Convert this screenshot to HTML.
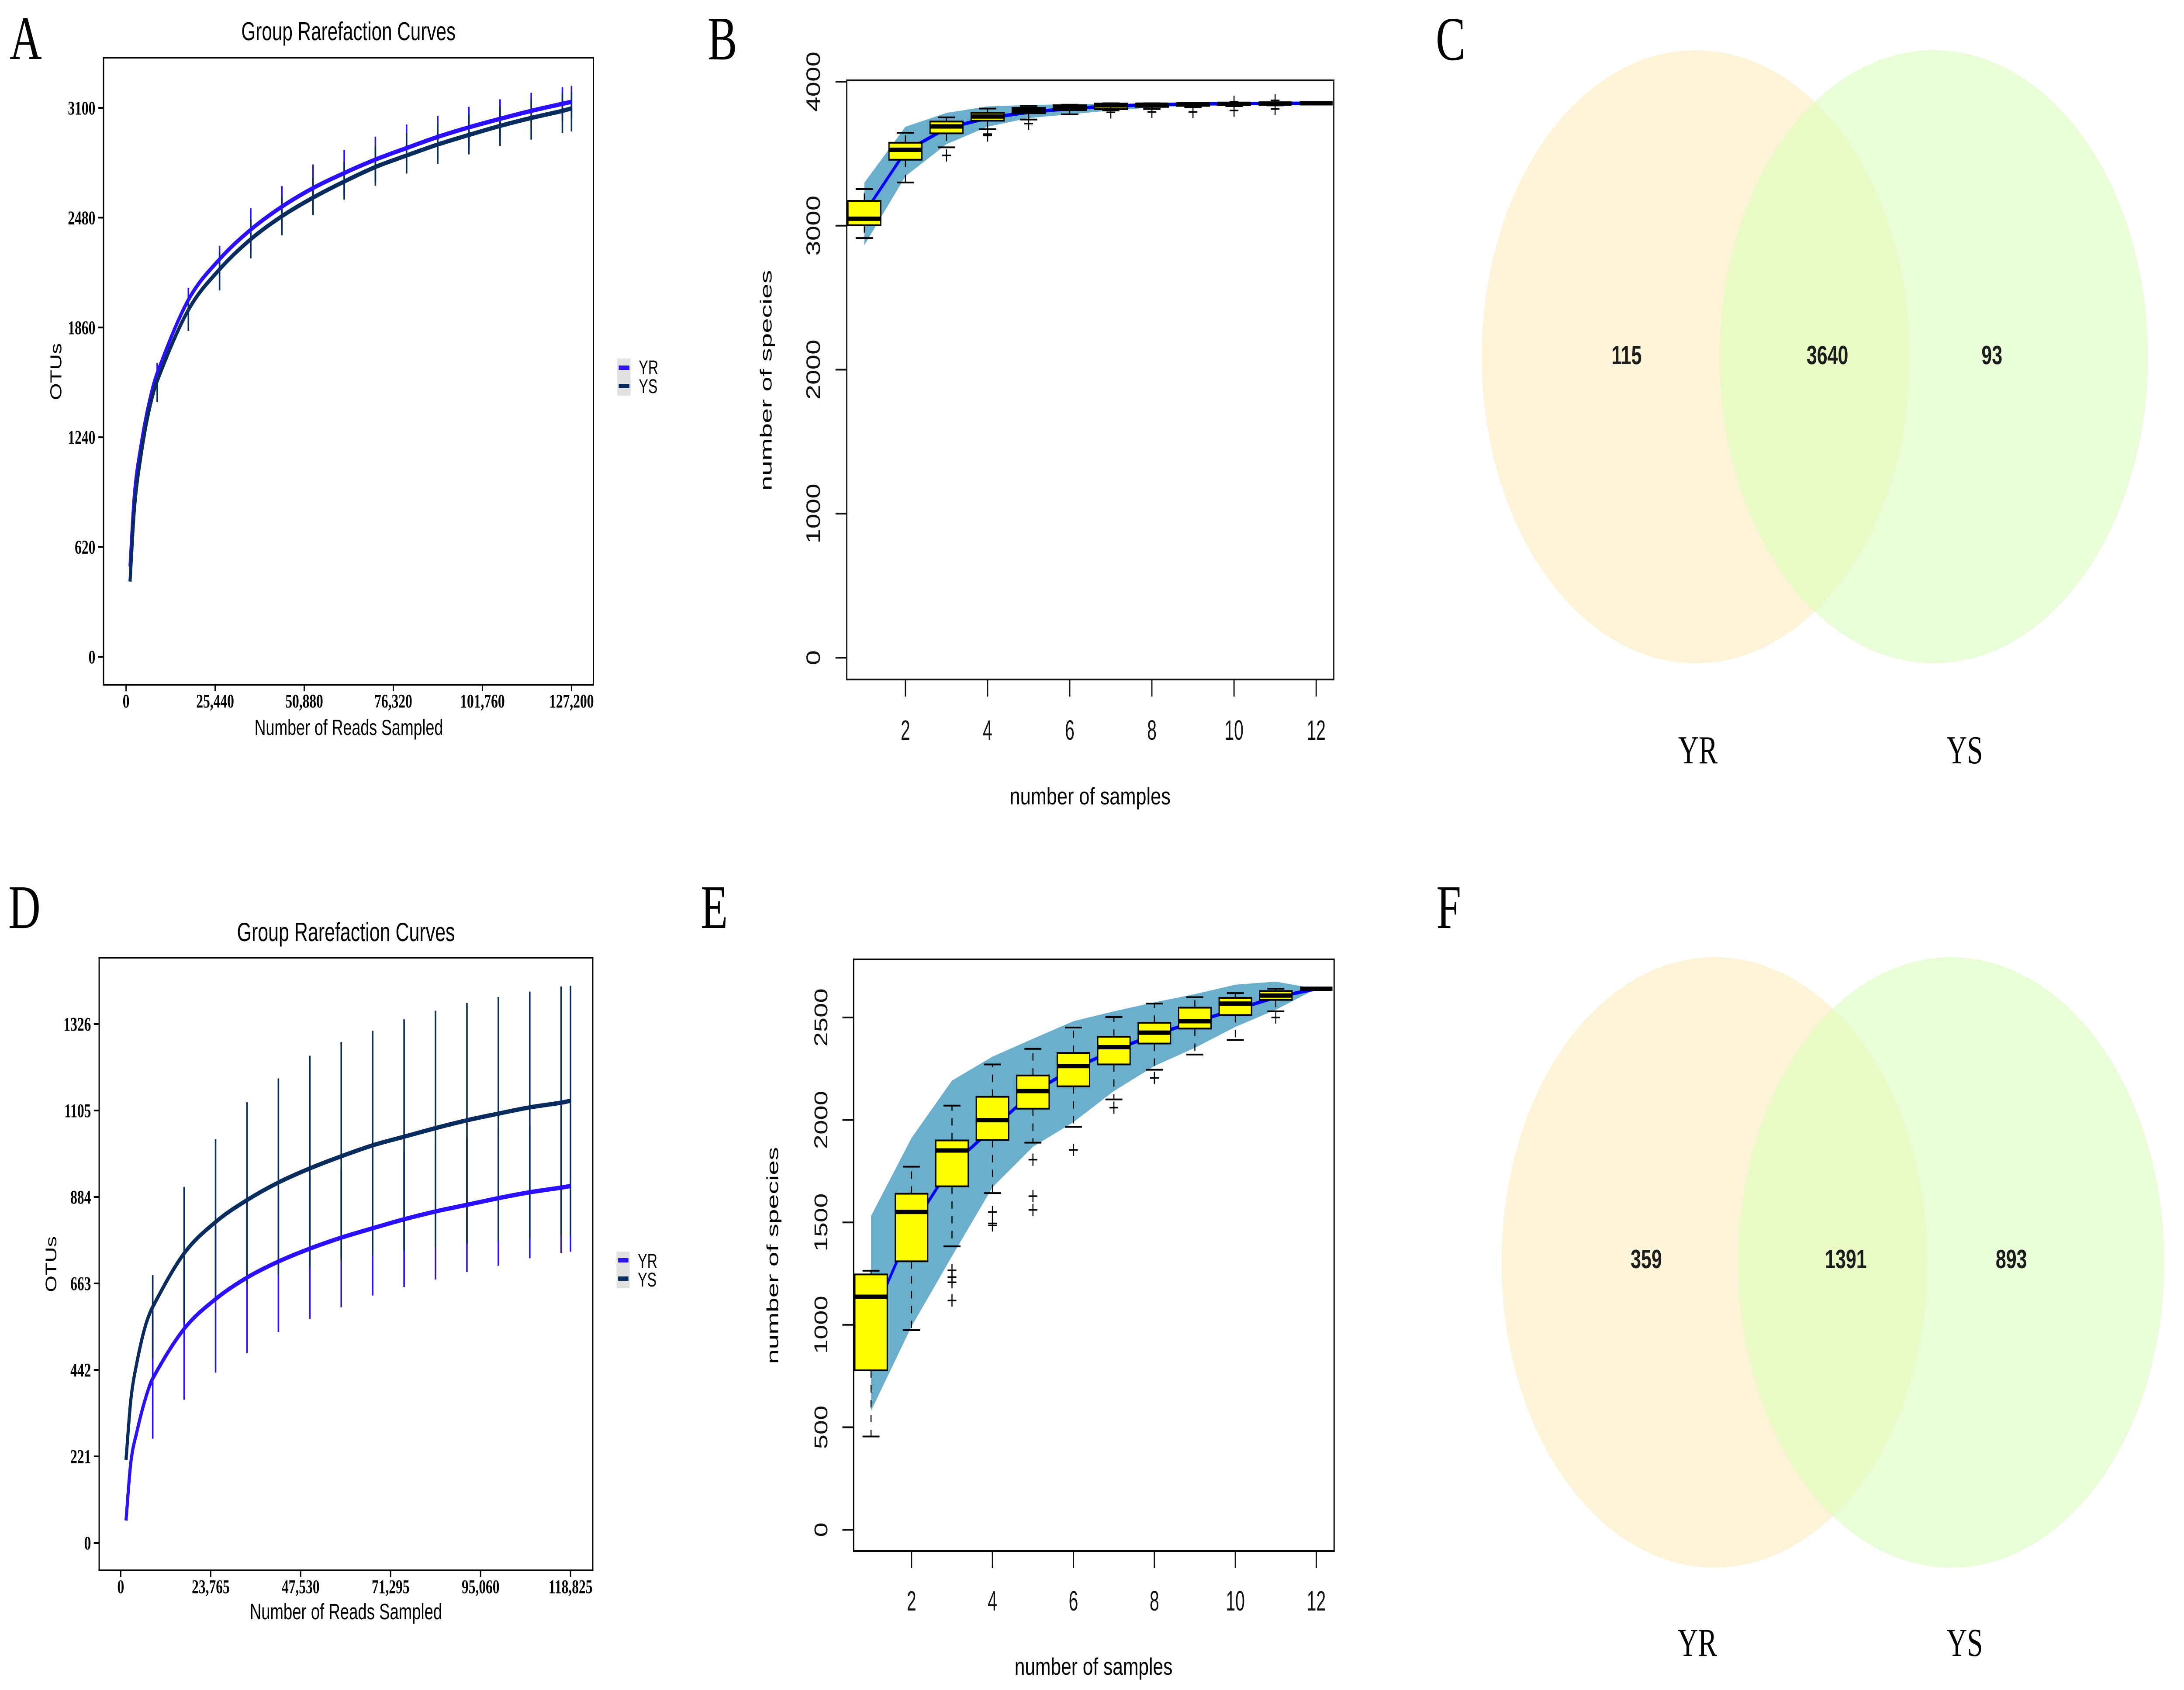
<!DOCTYPE html>
<html lang="en">
<head>
<meta charset="utf-8">
<meta name="viewport" content="width=6982">
<title>Rarefaction curves, species accumulation boxplots and Venn diagrams</title>
<style>
html,body{margin:0;padding:0;background:#fff;height:3870px;overflow:hidden}
svg{display:block;width:100vw;height:3870px}
text{fill:#000}
.sans{font-family:"Liberation Sans",sans-serif}
.serif{font-family:"Liberation Serif",serif}
.tickA{font-family:"Liberation Serif",serif;font-weight:bold;font-size:44px}
.tickB{font-family:"Liberation Sans",sans-serif;font-size:62px;fill:#111}
.venn{font-family:"Liberation Sans",sans-serif;font-weight:bold;font-size:60px;text-anchor:middle;fill:#1c1c1c}
.setname{font-family:"Liberation Serif",serif;font-size:91px;text-anchor:middle}
.letter{font-family:"Liberation Serif",serif;font-size:142px}
</style>
</head>
<body>
<svg id="figure" xmlns="http://www.w3.org/2000/svg" viewBox="0 0 6982 3870" preserveAspectRatio="none">
<rect width="6982" height="3870" fill="#fff"/>

<g>
  <text class="letter" x="31" y="135">A</text>
  <text class="sans" font-size="59" text-anchor="middle" x="1114" y="92">Group Rarefaction Curves</text>
  <g id="plotA"></g>
  <rect x="331" y="132" width="1566" height="1436" fill="none" stroke="#000" stroke-width="4"/>
  <text class="sans" font-size="50" text-anchor="middle" x="1115" y="1683">Number of Reads Sampled</text>
  <text class="sans" font-size="50" text-anchor="middle" transform="translate(196,851) rotate(-90)">OTUs</text>
  <g>
    <rect x="1973" y="821" width="43" height="85" fill="#e2e2e2"/>
    <rect x="1978" y="837" width="34" height="10" fill="#2a10ff"/>
    <rect x="1978" y="879" width="34" height="10" fill="#082c5e"/>
    <text class="sans" font-size="45" x="2042" y="857">YR</text>
    <text class="sans" font-size="45" x="2042" y="900">YS</text>
  </g>
</g>

<g>
  <text class="letter" x="2262" y="136">B</text>
  <g id="plotB"></g>
  <rect x="2707" y="184" width="1557" height="1372" fill="none" stroke="#111" stroke-width="4"/>
  <text class="sans" font-size="55" text-anchor="middle" transform="translate(3485,1842) scale(1.1,1)">number of samples</text>
  <text class="sans" font-size="52" text-anchor="middle" transform="translate(2467,871) rotate(-90) scale(1.19,1)">number of species</text>
</g>

<g>
  <text class="letter" x="4590" y="137">C</text>
  <defs>
    <clipPath id="clipC"><ellipse cx="6182" cy="817" rx="685" ry="702"/></clipPath>
    <clipPath id="clipF"><ellipse cx="6238" cy="2891" rx="681" ry="699"/></clipPath>
  </defs>
  <ellipse cx="5421" cy="817" rx="684" ry="702" fill="#fdf3d8"/>
  <ellipse cx="6182" cy="817" rx="685" ry="702" fill="#e9fdd8"/>
  <ellipse cx="5421" cy="817" rx="684" ry="702" fill="#e9fac5" clip-path="url(#clipC)"/>
  <text class="venn" x="5200" y="834">115</text>
  <text class="venn" x="5842" y="834">3640</text>
  <text class="venn" x="6368" y="834">93</text>
  <text class="setname" x="5428" y="1748">YR</text>
  <text class="setname" x="6281" y="1748">YS</text>
</g>

<g>
  <text class="letter" x="27" y="2125">D</text>
  <text class="sans" font-size="60" text-anchor="middle" x="1106" y="2155">Group Rarefaction Curves</text>
  <g id="plotD"></g>
  <rect x="317" y="2193" width="1578" height="1403" fill="none" stroke="#000" stroke-width="4"/>
  <text class="sans" font-size="51" text-anchor="middle" x="1106" y="3708">Number of Reads Sampled</text>
  <text class="sans" font-size="49" text-anchor="middle" transform="translate(180,2895) rotate(-90)">OTUs</text>
  <g>
    <rect x="1971" y="2866" width="42" height="84" fill="#e2e2e2"/>
    <rect x="1976" y="2881" width="33" height="10" fill="#2a10ff"/>
    <rect x="1976" y="2923" width="33" height="10" fill="#082c5e"/>
    <text class="sans" font-size="45" x="2039" y="2903">YR</text>
    <text class="sans" font-size="45" x="2039" y="2946">YS</text>
  </g>
</g>

<g>
  <text class="letter" x="2240" y="2125">E</text>
  <g id="plotE"></g>
  <rect x="2729" y="2197" width="1536" height="1355" fill="none" stroke="#000" stroke-width="4"/>
  <text class="sans" font-size="55" text-anchor="middle" transform="translate(3496,3835) scale(1.08,1)">number of samples</text>
  <text class="sans" font-size="52" text-anchor="middle" transform="translate(2488,2875) rotate(-90) scale(1.17,1)">number of species</text>
</g>

<g>
  <text class="letter" x="4592" y="2125">F</text>
  <ellipse cx="5481" cy="2891" rx="681" ry="699" fill="#fdf3d8"/>
  <ellipse cx="6238" cy="2891" rx="681" ry="699" fill="#e9fdd8"/>
  <ellipse cx="5481" cy="2891" rx="681" ry="699" fill="#e9fac5" clip-path="url(#clipF)"/>
  <text class="venn" x="5263" y="2904">359</text>
  <text class="venn" x="5901" y="2904">1391</text>
  <text class="venn" x="6430" y="2904">893</text>
  <text class="setname" x="5426" y="3792">YR</text>
  <text class="setname" x="6281" y="3792">YS</text>
</g>
</svg>

<script>
/* Panel A data */
const aXTicks = [0, 25440, 50880, 76320, 101760, 127200];
const aYTicks = [0, 620, 1240, 1860, 2480, 3100];
const aReads = [1130, 2400, 4100, 6400, 8900, 17800, 26700, 35600, 44500, 53400, 62300, 71200, 80100, 89000, 97900, 106800, 115700, 124600, 127200];
const aYR = [510, 922, 1175, 1420, 1603, 2016, 2245, 2412, 2542, 2647, 2732, 2808, 2873, 2936, 2990, 3038, 3083, 3123, 3134];
const aYS = [425, 838, 1115, 1375, 1558, 1959, 2188, 2358, 2488, 2593, 2684, 2766, 2831, 2893, 2947, 2998, 3043, 3083, 3097];
const aYRErr = [57, 68, 76, 122, 116, 133, 130, 130, 133, 119, 116, 110, 102, 93, 91];
const aYSErrUp = [60, 80, 95, 110, 110, 110, 110, 118, 127, 120, 115, 110, 105, 98, 93];
const aYSErrDown = [120, 119, 119, 108, 108, 99, 102, 105, 102, 110, 110, 113, 122, 125, 130];

/* Panel D data */
const dXTicks = [0, 23765, 47530, 71295, 95060, 118825];
const dYTicks = [0, 221, 442, 663, 884, 1105, 1326];
const dReads = [1390, 2670, 4290, 6380, 8450, 16750, 25050, 33350, 41650, 49950, 58250, 66550, 74850, 83150, 91450, 99750, 108050, 116350, 118825];
const dYR = [57, 206, 285, 364, 420, 547, 623, 678, 719, 752, 780, 804, 827, 847, 864, 881, 896, 908, 912];
const dYS = [212, 366, 462, 550, 603, 740, 820, 876, 921, 957, 988, 1016, 1038, 1060, 1080, 1097, 1113, 1125, 1130];
const dYRErr = [154, 181, 188, 193, 180, 180, 178, 172, 173, 174, 172, 173, 169, 168, 168];
const dYSErrUp = [81, 170, 212, 250, 266, 288, 292, 293, 300, 300, 300, 298, 296, 297, 294];
const dYSErrDown = [131, 175, 200, 214, 236, 252, 266, 281, 290, 304, 314, 325, 334, 339, 345];

/* Panel B data */
const bXTicks = [2, 4, 6, 8, 10, 12];
const bYTicks = [0, 1000, 2000, 3000, 4000];
const bSamples = [1, 2, 3, 4, 5, 6, 7, 8, 9, 10, 11, 12];
const bBandUpper = [3298, 3687, 3783, 3828, 3838, 3843, 3846, 3848, 3850, 3850, 3850, 3850];
const bBandLower = [2864, 3343, 3566, 3687, 3747, 3773, 3800, 3820, 3835, 3843, 3848, 3850];
const bMean = [3087, 3515, 3677, 3747, 3788, 3813, 3830, 3840, 3845, 3848, 3849, 3850];
const bQ1 = [3003, 3458, 3641, 3729, 3781, 3803, 3809, 3825, 3832, 3838, 3842, 3850];
const bMedian = [3048, 3527, 3689, 3758, 3800, 3818, 3835, 3840, 3845, 3846, 3848, 3850];
const bQ3 = [3172, 3576, 3723, 3783, 3818, 3836, 3848, 3848, 3850, 3850, 3850, 3850];
const bWhiskerLow = [2914, 3300, 3544, 3670, 3737, 3773, 3800, 3810, 3822, 3830, 3835, 3850];
const bWhiskerHigh = [3254, 3645, 3752, 3813, 3831, 3840, 3850, 3850, 3850, 3850, 3850, 3850];
const bOutliers = [[], [], [3488], [3636, 3626], [3709], [], [3787], [3790], [3790], [3800, 3860], [3810, 3870], []];

/* Panel E data */
const eXTicks = [2, 4, 6, 8, 10, 12];
const eYTicks = [0, 500, 1000, 1500, 2000, 2500];
const eSamples = [1, 2, 3, 4, 5, 6, 7, 8, 9, 10, 11, 12];
const eBandUpper = [1531, 1912, 2192, 2309, 2396, 2482, 2530, 2574, 2614, 2660, 2675, 2640];
const eBandLower = [580, 992, 1335, 1671, 1869, 1989, 2141, 2263, 2352, 2454, 2538, 2640];
const eMean = [1017, 1475, 1780, 1958, 2136, 2250, 2340, 2416, 2479, 2538, 2599, 2640];
const eQ1 = [778, 1310, 1676, 1902, 2055, 2164, 2271, 2373, 2446, 2512, 2586, 2640];
const eMedian = [1137, 1551, 1851, 1999, 2141, 2263, 2355, 2426, 2482, 2568, 2607, 2640];
const eQ3 = [1246, 1640, 1900, 2113, 2217, 2327, 2406, 2474, 2548, 2596, 2629, 2640];
const eWhiskerLow = [455, 974, 1383, 1643, 1889, 1966, 2100, 2245, 2319, 2390, 2530, 2640];
const eWhiskerHigh = [1264, 1772, 2070, 2271, 2347, 2451, 2502, 2568, 2599, 2619, 2640, 2640];
const eOutliers = [[], [], [1266, 1233, 1208, 1119], [1551, 1495, 1485], [1806, 1628, 1561], [1854], [2060], [2205], [], [], [2500], []];

const SVGNS = 'http://www.w3.org/2000/svg';
function linear(d0, d1, r0, r1) {
  return function (v) { return r0 + (v - d0) * (r1 - r0) / (d1 - d0); };
}
function mk(parent, tag, attrs) {
  const el = document.createElementNS(SVGNS, tag);
  for (const k in attrs) el.setAttribute(k, attrs[k]);
  parent.appendChild(el);
  return el;
}
function smoothPath(pts) {
  let d = 'M' + pts[0][0] + ' ' + pts[0][1];
  for (let i = 0; i < pts.length - 1; i++) {
    const p0 = pts[Math.max(i - 1, 0)], p1 = pts[i], p2 = pts[i + 1], p3 = pts[Math.min(i + 2, pts.length - 1)];
    const c1x = p1[0] + (p2[0] - p1[0]) / 3, c2x = p2[0] - (p2[0] - p1[0]) / 3;
    const s1 = (p2[1] - p0[1]) / ((p2[0] - p0[0]) || 1), s2 = (p3[1] - p1[1]) / ((p3[0] - p1[0]) || 1);
    const c1y = p1[1] + s1 * (p2[0] - p1[0]) / 3, c2y = p2[1] - s2 * (p2[0] - p1[0]) / 3;
    d += 'C' + c1x + ' ' + c1y + ' ' + c2x + ' ' + c2y + ' ' + p2[0] + ' ' + p2[1];
  }
  return d;
}

function drawRarefaction(cfg) {
  const g = document.getElementById(cfg.id);
  const x = cfg.x, y = cfg.y;
  cfg.yTicks.forEach(function (v) {
    const t = mk(g, 'line', { x1: cfg.left, x2: cfg.left - 17, y1: y(v), y2: y(v), stroke: '#000', 'stroke-width': 4 });
    
    
    const l = mk(g, 'text', { class: 'tickA', x: cfg.left - 26, y: y(v) + 15, 'text-anchor': 'end' });
    l.textContent = String(v);
    
    
  });
  cfg.xTicks.forEach(function (v) {
    const t = mk(g, 'line', { x1: x(v), x2: x(v), y1: cfg.bottom, y2: cfg.bottom + 15, stroke: '#000', 'stroke-width': 4 });
    
    
    const l = mk(g, 'text', { class: 'tickA', x: x(v), y: cfg.bottom + 52, 'text-anchor': 'middle' });
    l.textContent = v.toLocaleString('en-US');
    
    
  });
  const first = cfg.reads.length - cfg.yrErr.length;
  cfg.yrErr.forEach(function (e, i) {
    const r = cfg.reads[first + i], m = cfg.yr[first + i];
    const b = mk(g, 'line', { x1: x(r), x2: x(r), y1: y(m + e), y2: y(m - e), stroke: '#2a10ff', 'stroke-width': 5 });
    
    
  });
  cfg.ysErrUp.forEach(function (e, i) {
    const r = cfg.reads[first + i], m = cfg.ys[first + i];
    const b = mk(g, 'line', { x1: x(r), x2: x(r), y1: y(m + e), y2: y(m - cfg.ysErrDown[i]), stroke: '#082c5e', 'stroke-width': 5 });
    
    
  });
  const lineYR = mk(g, 'path', { d: smoothPath(cfg.reads.map(function (r, i) { return [x(r), y(cfg.yr[i])]; })), fill: 'none', stroke: '#2a10ff', 'stroke-width': 10 });
  
  
  const lineYS = mk(g, 'path', { d: smoothPath(cfg.reads.map(function (r, i) { return [x(r), y(cfg.ys[i])]; })), fill: 'none', stroke: '#082c5e', 'stroke-width': 10 });
  
  
}

function drawBoxes(cfg) {
  const g = document.getElementById(cfg.id);
  const x = cfg.x, y = cfg.y;
  const s = cfg.samples;
  const upper = s.map(function (n, i) { return x(n) + ',' + y(cfg.bandUpper[i]); });
  const lower = s.map(function (n, i) { return x(n) + ',' + y(cfg.bandLower[i]); }).reverse();
  const band = mk(g, 'polygon', { points: upper.concat(lower).join(' '), fill: '#6cafcc' });
  
  
  const mean = mk(g, 'polyline', { points: s.map(function (n, i) { return x(n) + ',' + y(cfg.mean[i]); }).join(' '), fill: 'none', stroke: '#0000ff', 'stroke-width': 8 });
  
  
  const hw = (x(1) - x(0)) * 0.4, cw = (x(1) - x(0)) * 0.21, os = 14;
  s.forEach(function (n, i) {
    const cx = x(n);
    const box = mk(g, 'g', {});
    
    
    mk(box, 'line', { x1: cx, x2: cx, y1: y(cfg.q3[i]), y2: y(cfg.whiskerHigh[i]), stroke: '#000', 'stroke-width': 3.5, 'stroke-dasharray': '17 17' });
    mk(box, 'line', { x1: cx, x2: cx, y1: y(cfg.q1[i]), y2: y(cfg.whiskerLow[i]), stroke: '#000', 'stroke-width': 3.5, 'stroke-dasharray': '17 17' });
    mk(box, 'line', { x1: cx - cw, x2: cx + cw, y1: y(cfg.whiskerHigh[i]), y2: y(cfg.whiskerHigh[i]), stroke: '#000', 'stroke-width': 4 });
    mk(box, 'line', { x1: cx - cw, x2: cx + cw, y1: y(cfg.whiskerLow[i]), y2: y(cfg.whiskerLow[i]), stroke: '#000', 'stroke-width': 4 });
    mk(box, 'rect', { x: cx - hw, y: y(cfg.q3[i]), width: hw * 2, height: Math.max(y(cfg.q1[i]) - y(cfg.q3[i]), 0), fill: '#ffff00', stroke: '#000', 'stroke-width': 4 });
    mk(box, 'line', { x1: cx - hw, x2: cx + hw, y1: y(cfg.median[i]), y2: y(cfg.median[i]), stroke: '#000', 'stroke-width': 10 });
    cfg.outliers[i].forEach(function (o) {
      mk(box, 'path', { d: 'M' + (cx - os) + ' ' + y(o) + 'H' + (cx + os) + 'M' + cx + ' ' + (y(o) - os) + 'V' + (y(o) + os), stroke: '#000', 'stroke-width': 3.5, fill: 'none' });
    });
  });
  cfg.yTicks.forEach(function (v) {
    const t = mk(g, 'line', { x1: cfg.left, x2: cfg.left - 36, y1: y(v), y2: y(v), stroke: '#111', 'stroke-width': 4 });
    
    
    const l = mk(g, 'text', { class: 'tickB', 'text-anchor': 'middle', transform: 'translate(' + cfg.yLabelX + ',' + y(v) + ') rotate(-90)' });
    l.style.fontSize = cfg.yFont + 'px';
    l.textContent = String(v);
    
    
  });
  cfg.xTicks.forEach(function (v) {
    const t = mk(g, 'line', { x1: x(v), x2: x(v), y1: cfg.bottom, y2: cfg.bottom + 39, stroke: '#111', 'stroke-width': 4 });
    
    
    const l = mk(g, 'text', { class: 'tickB', 'text-anchor': 'middle', transform: 'translate(' + x(v) + ',' + cfg.xLabelY + ') scale(0.85,1)' });
    l.style.fontSize = '64px';
    l.textContent = String(v);
    
    
  });
}

drawRarefaction({ id: 'plotA', x: linear(0, 127200, 403, 1827), y: linear(0, 3100, 1504, 247), left: 331, bottom: 1568,
  xTicks: aXTicks, yTicks: aYTicks, reads: aReads, yr: aYR, ys: aYS, yrErr: aYRErr, ysErrUp: aYSErrUp, ysErrDown: aYSErrDown });
drawRarefaction({ id: 'plotD', x: linear(0, 118825, 386, 1824), y: linear(0, 1326, 3533, 2345), left: 317, bottom: 3596,
  xTicks: dXTicks, yTicks: dYTicks, reads: dReads, yr: dYR, ys: dYS, yrErr: dYRErr, ysErrUp: dYSErrUp, ysErrDown: dYSErrDown });
drawBoxes({ id: 'plotB', x: linear(2, 12, 2894.5, 4207.7), y: linear(0, 4000, 1506, 187), left: 2707, bottom: 1556, yLabelX: 2621, yFont: 62, xLabelY: 1694,
  xTicks: bXTicks, yTicks: bYTicks, samples: bSamples, bandUpper: bBandUpper, bandLower: bBandLower, mean: bMean,
  q1: bQ1, median: bMedian, q3: bQ3, whiskerLow: bWhiskerLow, whiskerHigh: bWhiskerHigh, outliers: bOutliers });
drawBoxes({ id: 'plotE', x: linear(2, 12, 2914, 4208), y: linear(0, 2500, 3503, 2330), left: 2729, bottom: 3552, yLabelX: 2645, yFont: 60, xLabelY: 3688,
  xTicks: eXTicks, yTicks: eYTicks, samples: eSamples, bandUpper: eBandUpper, bandLower: eBandLower, mean: eMean,
  q1: eQ1, median: eMedian, q3: eQ3, whiskerLow: eWhiskerLow, whiskerHigh: eWhiskerHigh, outliers: eOutliers });
</script>
</body>
</html>
